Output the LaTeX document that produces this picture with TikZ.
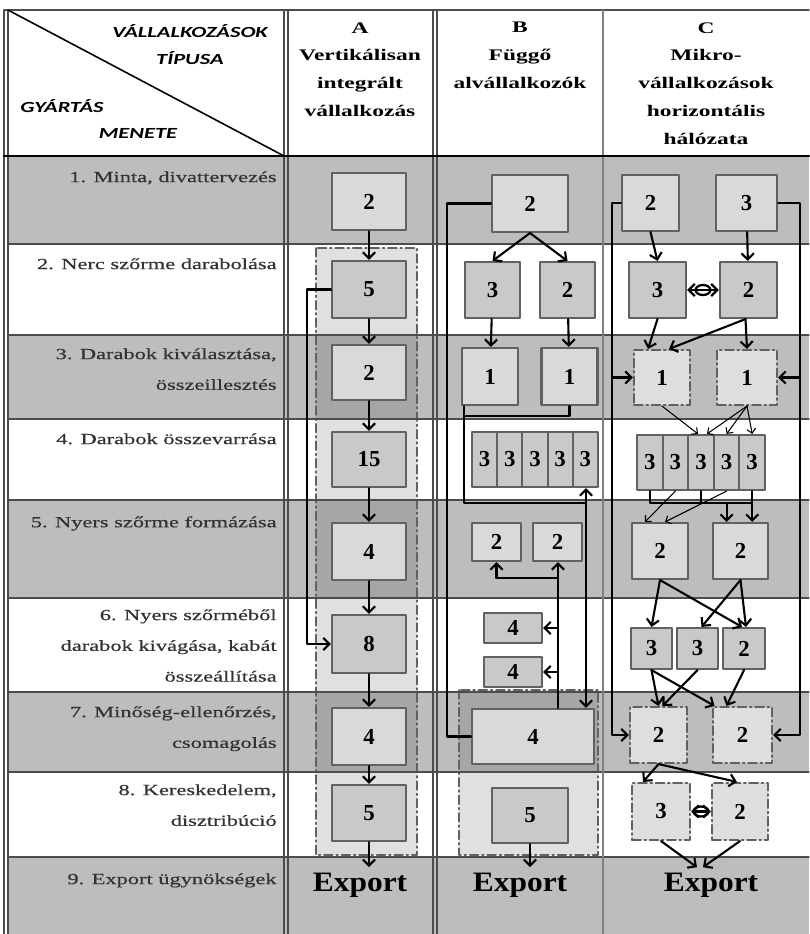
\documentclass[tikz,border=0pt]{standalone}
\usepackage{fontspec}
\setmainfont{Liberation Serif}[FakeStretch=1.45]
\newfontfamily\lblfont{Liberation Serif}[FakeStretch=1.45, FakeBold=0.5]
\newfontfamily\hdrsans{Carlito}[FakeStretch=1.45]
\newfontfamily\numfont{Liberation Serif}
\newfontfamily\expfont{Liberation Serif}[FakeStretch=1.12]
\usetikzlibrary{arrows.meta,calc,shapes.geometric}

\definecolor{rowgray}{gray}{0.74}
\definecolor{boxlight}{gray}{0.85}
\definecolor{boxmid}{gray}{0.79}
\definecolor{dashfill}{gray}{0.87}
\definecolor{boxline}{gray}{0.38}
\definecolor{gridline}{gray}{0.3}

\begin{document}
\begin{tikzpicture}[x=0.02cm, y=-0.02cm, line cap=round, line join=round,
	>={Straight Barb[length=3.5pt,width=7pt]},
	sz/.style 2 args={minimum width=#1*0.02cm, minimum height=#2*0.02cm},
	box/.style={draw=boxline, fill=boxlight, line width=1.2pt, inner sep=0pt,
		font=\numfont\bfseries\fontsize{13}{13}\selectfont},
	boxm/.style={box, fill=boxmid},
	dbox/.style={box, fill=dashfill, dash pattern=on 5pt off 2pt on 1pt off 2pt},
	region/.style={draw=boxline, line width=0.9pt, fill=black, fill opacity=0.12,
		dash pattern=on 5pt off 2pt on 1pt off 2pt},
	flow/.style={->, line width=1.2pt},
	thinflow/.style={->, line width=0.6pt, >={Straight Barb[length=2.5pt,width=5pt]}},
	lbl/.style={anchor=north east, align=right, inner sep=0pt, text=black!80,
		font=\lblfont\fontsize{8.8}{17.5}\selectfont},
	hdr/.style={anchor=north, align=center, inner sep=0pt,
		font=\bfseries\fontsize{9.2}{15.8}\selectfont},
	diag/.style={inner sep=0pt, font=\hdrsans\bfseries\itshape\fontsize{8.8}{10}\selectfont},
	export/.style={inner sep=3pt, font=\expfont\bfseries\fontsize{16}{16}\selectfont},
	oval/.style={ellipse, draw, line width=1.3pt, inner sep=0pt, sz={15}{10}}]
	
	% picture window
	\def\xmax{809} \def\ymax{934}
	\useasboundingbox (0,0) rectangle (\xmax,\ymax);
	
	% shaded rows
	\foreach \ya/\yb in {156/244, 335/419, 500/598, 692/772, 857/934}
	\fill[rowgray] (8,\ya) rectangle (\xmax,\yb);
	
	% dash-dot regions
	\draw[region] (316,248) rectangle (417,855);
	\draw[region] (459,690) rectangle (598,855);
	
	% table lines
	\draw[gridline, line width=0.8pt] (4,10) -- (\xmax,10);
	\foreach \y in {244,335,419,500,598,692,772,857}
	\draw[gridline, line width=0.7pt] (8,\y) -- (\xmax,\y);
	\foreach \x in {4,8,284,288,433,437}
	\draw[gridline, line width=0.7pt] (\x,10) -- (\x,\ymax);
	\draw[gray, line width=0.7pt] (603,10) -- (603,\ymax);
	\draw[black, line width=1.6pt] (4,156) -- (\xmax,156);
	\draw[line width=0.9pt] (8,10) -- (284,156);
	
	% header
	\node[diag] (tv) at (190,31) {VÁLLALKOZÁSOK};
	\node[diag] (tt) at (190,58) {TÍPUSA};
	\node[diag] (tg) at (62,106) {GYÁRTÁS};
	\node[diag] (tm) at (138,133) {MENETE};
	\node[hdr] (hA) at (360,22) {A\\Vertikálisan\\integrált\\vállalkozás};
	\node[hdr] (hB) at (520,22) {B\\Függő\\alvállalkozók};
	\node[hdr] (hC) at (706,22) {C\\Mikro-\\vállalkozások\\horizontális\\hálózata};
	
	% row labels
	\node[lbl] (r1) at (277,171) {1. Minta, divattervezés};
	\node[lbl] (r2) at (277,258) {2. Nerc szőrme darabolása};
	\node[lbl] (r3) at (277,348) {3. Darabok kiválasztása,\\összeillesztés};
	\node[lbl] (r4) at (277,433) {4. Darabok összevarrása};
	\node[lbl] (r5) at (277,516) {5. Nyers szőrme formázása};
	\node[lbl] (r6) at (277,609) {6. Nyers szőrméből\\darabok kivágása, kabát\\összeállítása};
	\node[lbl] (r7) at (277,706) {7. Minőség-ellenőrzés,\\csomagolás};
	\node[lbl] (r8) at (277,784) {8. Kereskedelem,\\disztribúció};
	\node[lbl] (r9) at (277,873) {9. Export ügynökségek};
	
	% column A
	\node[box, sz={74}{57}] (a1) at (369,201.5) {2};
	\node[boxm, sz={74}{57}] (a2) at (369,289.5) {5};
	\node[box, sz={74}{55}] (a3) at (369,372.5) {2};
	\node[boxm, sz={74}{55}] (a4) at (369,459.5) {15};
	\node[box, sz={74}{57}] (a5) at (369,551.5) {4};
	\node[boxm, sz={74}{58}] (a6) at (369,644) {8};
	\node[box, sz={74}{57}] (a7) at (369,736.5) {4};
	\node[boxm, sz={74}{56}] (a8) at (369,813) {5};
	\node[export] (aE) at (360,885) {Export};
	
	\foreach \i/\j in {a1/a2, a2/a3, a3/a4, a4/a5, a5/a6, a6/a7, a7/a8}
	\draw[flow] (\i) -- (\j);
	\draw[flow] (a8.south) -- (a8.south |- aE.north);
	\coordinate (aL) at (307,289.5);
	\draw[flow] (a2.west) -- (aL) |- (a6.west);
	
	% column B
	\node[box, sz={76}{57}] (b1) at (530,203.5) {2};
	\node[boxm, sz={55}{56}] (b2l) at (492.5,290) {3};
	\node[boxm, sz={55}{56}] (b2r) at (567.5,290) {2};
	\node[box, sz={56}{57}] (b3l) at (490,376.5) {1};
	\node[box, sz={56}{57}] (b3r) at (569.5,376.5) {1};
	\foreach \k in {1,...,5}
	\node[boxm, sz={25.2}{55}] (b4\k) at ({472+25.2*(\k-0.5)},459.5) {3};
	\node[box, sz={49}{38}] (b5l) at (496.5,542) {2};
	\node[box, sz={49}{38}] (b5r) at (557.5,542) {2};
	\node[boxm, sz={58}{30}] (b6a) at (513,628) {4};
	\node[boxm, sz={58}{30}] (b6b) at (513,672) {4};
	\node[box, sz={122}{55}] (b7) at (533,736.5) {4};
	\node[boxm, sz={76}{55}] (b8) at (530,815.5) {5};
	\node[export] (bE) at (520,885) {Export};
	
	\draw[flow] (b1.south) -- (b2l.north);
	\draw[flow] (b1.south) -- (b2r.north);
	\draw[flow] (b2l) -- (b3l);
	\draw[flow] (b2r) -- (b3r);
	\coordinate (bL) at (447,203.5);
	\draw[line width=1.2pt] (b1.west) -- (bL) |- (b7.west);
	\coordinate (bK) at (464,416);
	\coordinate (bJ) at (464,503);
	\coordinate (bR) at (586,503);
	\draw[line width=1.2pt] (bJ |- b3l.south) -- (bJ) -- (bR);
	\draw[line width=1.2pt] (b3r.south) |- (bK);
	\draw[flow] (bR) -- (bR |- b45.south);
	\draw[flow] (bR) -- (bR |- b7.north);
	\coordinate (bT) at (558,578);
	\draw[line width=1.2pt] (bT |- b7.north) -- (bT) -- (bT -| b5l);
	\draw[flow] (bT -| b5l) -- (b5l.south);
	\draw[flow] (bT) -- (bT |- b5r.south);
	\draw[flow] (bT |- b6a) -- (b6a.east);
	\draw[flow] (bT |- b6b) -- (b6b.east);
	\draw[flow] (b8.south) -- (b8.south |- bE.north);
	
	% column C
	\node[box, sz={57}{56}] (c1l) at (650.5,203) {2};
	\node[box, sz={61}{56}] (c1r) at (746.5,203) {3};
	\node[boxm, sz={57}{56}] (c2l) at (657.5,290) {3};
	\node[boxm, sz={57}{56}] (c2r) at (748.5,290) {2};
	\node[dbox, sz={56}{55}] (c3l) at (662,377.5) {1};
	\node[dbox, sz={60}{55}] (c3r) at (747,377.5) {1};
	\foreach \k in {1,...,5}
	\node[boxm, sz={25.6}{55}] (c4\k) at ({637+25.6*(\k-0.5)},462.5) {3};
	\node[box, sz={56}{56}] (c5l) at (660,551) {2};
	\node[box, sz={55}{56}] (c5r) at (740.5,551) {2};
	\node[boxm, sz={41}{41}] (c6a) at (651.5,648.5) {3};
	\node[boxm, sz={41}{41}] (c6b) at (697.5,648.5) {3};
	\node[boxm, sz={42}{41}] (c6c) at (744,648.5) {2};
	\node[dbox, sz={57}{56}] (c7l) at (658.5,735) {2};
	\node[dbox, sz={59}{56}] (c7r) at (742.5,735) {2};
	\node[dbox, sz={58}{57}] (c8l) at (661,811.5) {3};
	\node[dbox, sz={56}{57}] (c8r) at (740,811.5) {2};
	\node[export] (cE) at (711,885) {Export};
	
	\coordinate (cL) at (612,203);
	\draw[flow] (c1l.west) -- (cL) |- (c7l.west);
	\draw[flow] (cL |- c3l) -- (c3l.west);
	\coordinate (cR) at (800,203);
	\draw[flow] (c1r.east) -- (cR) |- (c7r.east);
	\draw[flow] (cR |- c3r) -- (c3r.east);
	
	\draw[flow] (c1l.south) -- (c2l.north);
	\draw[flow] (c1r) -- (c2r);
	\draw[<->, line width=1.3pt] (c2l) -- (c2r) node[oval, midway] (c2o) {};
	\draw[flow] (c2l.south) -- ($(c3l.north)+(-14,0)$);
	\draw[flow] ($(c2r.south)+(-3,0)$) -- ($(c3l.north east)+(-22,0)$);
	\draw[flow] ($(c2r.south)+(-3,0)$) -- (c3r.north);
	
	\draw[thinflow] (c3l.south) -- ($(c43.north)+(-3,0)$);
	\draw[thinflow] (c3r.south) -- ($(c43.north)+(6,0)$);
	\draw[thinflow] (c3r.south) -- (c44.north);
	\draw[thinflow] (c3r.south) -- (c45.north);
	
	\coordinate (cB) at (650,503);
	\draw[line width=1.2pt] (c41.south) -- (c41.south |- cB) -- (c45.south |- cB) -- (c45.south);
	\draw[line width=1.2pt] (c43.south) -- (c43.south |- cB);
	\draw[flow] (c44.south |- cB) -- (c44.south |- c5r.north);
	\draw[flow] (c45.south |- cB) -- (c45.south |- c5r.north);
	\draw[thinflow] (c42.south) -- ($(c5l.north)+(-15,0)$);
	\draw[thinflow] (c44.south) -- ($(c5l.north)+(5,0)$);
	
	\draw[flow] (c5l.south) -- (c6a.north);
	\draw[flow] (c5l.south) -- ($(c6c.north)+(-2,0)$);
	\draw[flow] (c5r.south) -- ($(c6b.north)+(4,0)$);
	\draw[flow] (c5r.south) -- ($(c6c.north)+(2,0)$);
	
	\draw[flow] (c6a.south) -- (c7l.north);
	\draw[flow] (c6a.south) -- ($(c7r.north)+(-28,0)$);
	\draw[flow] (c6b.south) -- ($(c7l.north)+(4,0)$);
	\draw[flow] (c6c.south) -- ($(c7r.north)+(-16,0)$);
	
	\draw[flow] (c7l.south) -- ($(c8l.north)+(-18,0)$);
	\draw[flow] (c7l.south) -- ($(c8r.north)+(-3,0)$);
	\draw[<->, line width=1.3pt] (c8l) -- (c8r) node[oval, midway] (c8o) {};
	\draw[flow] (c8l.south) -- ($(cE.north)+(-14,0)$);
	\draw[flow] (c8r.south) -- ($(cE.north)+(-8,0)$);
	
\end{tikzpicture}
\end{document}
